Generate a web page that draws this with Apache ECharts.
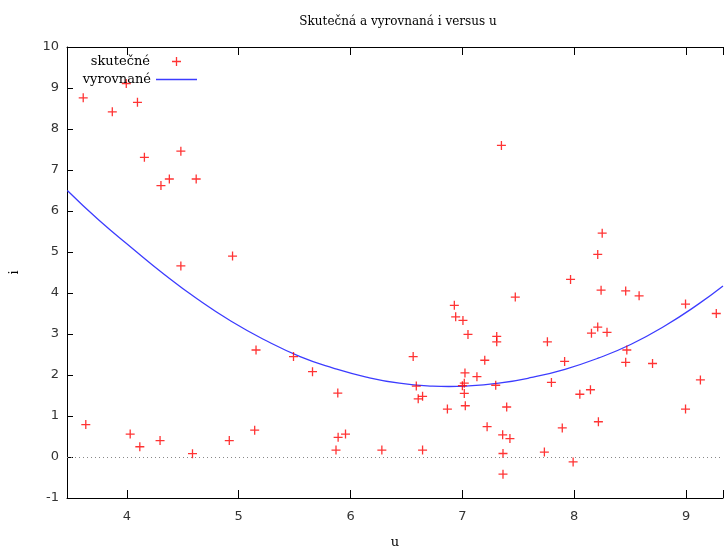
<!DOCTYPE html>
<html>
<head>
<meta charset="utf-8">
<script src="https://cdn.jsdelivr.net/npm/echarts@6/dist/echarts.min.js"></script>
<style>
  html, body { margin: 0; padding: 0; background: #fff; }
  #main { width: 726px; height: 554px; }
</style>
</head>
<body>
<div id="main"></div>
<script>
// skutečné hodnoty (u, i)
var skutU = [3.61, 3.995, 3.87, 4.095, 4.157, 4.483, 4.305, 4.38, 4.62, 4.945, 4.483,
  3.633, 4.03, 4.116, 4.297, 4.587, 4.916, 5.143, 5.155, 5.49, 5.66, 5.886, 5.889, 5.955, 5.87,
  7.349, 8.25, 8.21, 7.967, 8.24, 8.46, 8.58, 7.473, 6.928, 8.995, 9.27, 6.94, 7.005, 7.05,
  7.307, 7.307, 7.76, 8.21, 8.154, 8.293, 6.56, 7.2, 7.914, 8.47, 8.46, 8.70, 9.128, 7.796,
  7.13, 7.023, 6.588, 7.0, 7.017, 7.298, 7.017, 6.605, 6.644, 7.026, 6.866, 7.396, 8.05,
  8.145, 8.995, 8.216, 7.221, 7.893, 7.36, 7.425, 6.28, 6.644, 7.363, 7.733, 7.99, 7.363];
var skutI = [8.76, 9.11, 8.42, 8.65, 7.31, 7.46, 6.62, 6.78, 6.78, 4.90, 4.66,
  0.79, 0.56, 0.25, 0.40, 0.08, 0.40, 0.655, 2.61, 2.45, 2.08, 1.56, 0.48, 0.56, 0.17,
  7.60, 5.46, 4.94, 4.33, 4.07, 4.05, 3.93, 3.90, 3.70, 3.73, 3.50, 3.42, 3.33, 2.99,
  2.94, 2.81, 2.81, 3.17, 3.02, 3.04, 2.45, 2.36, 2.33, 2.61, 2.31, 2.28, 1.88, 1.82,
  1.96, 2.05, 1.73, 1.74, 1.80, 1.75, 1.55, 1.42, 1.48, 1.25, 1.17, 1.22, 1.53,
  1.64, 1.17, 0.86, 0.74, 0.71, 0.54, 0.45, 0.17, 0.17, 0.085, 0.12, -0.12, -0.42];

// vyrovnaná křivka
var vyrU = [3.468, 3.749, 4.045, 4.341, 4.637, 4.933, 5.229, 5.549, 5.845, 6.141, 6.437,
  6.733, 6.88, 7.029, 7.325, 7.62, 7.917, 8.213, 8.509, 8.805, 9.10, 9.33];
var vyrI = [6.50, 5.78, 5.10, 4.44, 3.84, 3.31, 2.86, 2.45, 2.17, 1.95, 1.80,
  1.73, 1.72, 1.73, 1.80, 1.94, 2.14, 2.41, 2.75, 3.19, 3.71, 4.17];

var xMin = 3.465, xMax = 9.33;
var yMin = -1, yMax = 10;

var plus = 'path://M3.85,0H5.15V3.85H9V5.15H5.15V9H3.85V5.15H0V3.85H3.85Z';
var serif = '"DejaVu Serif", serif';
var sans = '"DejaVu Sans", sans-serif';

var myChart = echarts.init(document.getElementById('main'));

var axisLine = { show: true, onZero: false, lineStyle: { color: '#000', width: 1 } };

var option = {
  animation: false,
  backgroundColor: '#fff',
  title: {
    text: 'Skutečná a vyrovnaná i versus u',
    left: 393, top: 11, textAlign: 'center',
    textStyle: { fontFamily: serif, fontSize: 12, fontWeight: 'normal', color: '#000' }
  },
  legend: [{
    data: [{ name: 'skutečné', icon: plus }],
    right: 545, top: 55, padding: 0, align: 'right',
    itemWidth: 9, itemHeight: 9,
    textStyle: { fontFamily: serif, fontSize: 13, color: '#000', padding: [0, 17, 0, 0] }
  }, {
    data: [{ name: 'vyrovnané', icon: 'rect' }],
    right: 529, top: 73, padding: 0, align: 'right',
    itemWidth: 41, itemHeight: 1.3,
    textStyle: { fontFamily: serif, fontSize: 13, color: '#000' }
  }],
  grid: { left: 65, right: 0, top: 47, bottom: 50 },
  xAxis: [{
    type: 'value', min: xMin, max: xMax, position: 'bottom',
    name: 'u', nameLocation: 'middle', nameGap: 38,
    nameTextStyle: { fontFamily: serif, fontSize: 13, color: '#000' },
    axisLine: axisLine,
    axisTick: { inside: true, length: 8, lineStyle: { color: '#000' } },
    axisLabel: {
      margin: 12, fontFamily: sans, fontSize: 13, color: '#333',
      formatter: function (v) { return Math.abs(v - Math.round(v)) < 1e-6 ? String(Math.round(v)) : ''; }
    },
    splitLine: { show: false }
  }, {
    type: 'value', min: xMin, max: xMax, position: 'top',
    axisLine: axisLine,
    axisTick: { inside: true, length: 8, lineStyle: { color: '#000' } },
    axisLabel: { show: false },
    splitLine: { show: false }
  }],
  yAxis: {
    type: 'value', min: yMin, max: yMax, interval: 1,
    name: 'i', nameLocation: 'middle', nameGap: 46, nameRotate: 90,
    nameTextStyle: { fontFamily: serif, fontSize: 13, color: '#000' },
    axisLine: axisLine,
    axisTick: { inside: true, length: 6, lineStyle: { color: '#000' } },
    axisLabel: { margin: 8, fontFamily: sans, fontSize: 13, color: '#333' },
    splitLine: { show: false }
  },
  series: [{
    name: 'skutečné',
    type: 'scatter',
    symbol: plus,
    symbolSize: 9,
    itemStyle: { color: '#ff0000' },
    data: skutU.map(function (u, k) { return [u, skutI[k]]; }),
    markLine: {
      silent: true, symbol: 'none', label: { show: false },
      lineStyle: { color: '#888', type: [1, 3], width: 1 },
      data: [{ yAxis: 0 }]
    },
    z: 3
  }, {
    name: 'vyrovnané',
    type: 'line',
    smooth: true,
    symbol: 'none',
    lineStyle: { color: '#3c3cff', width: 1.3 },
    itemStyle: { color: '#3c3cff' },
    data: vyrU.map(function (u, k) { return [u, vyrI[k]]; }),
    z: 2
  }]
};

myChart.setOption(option);
</script>
</body>
</html>
